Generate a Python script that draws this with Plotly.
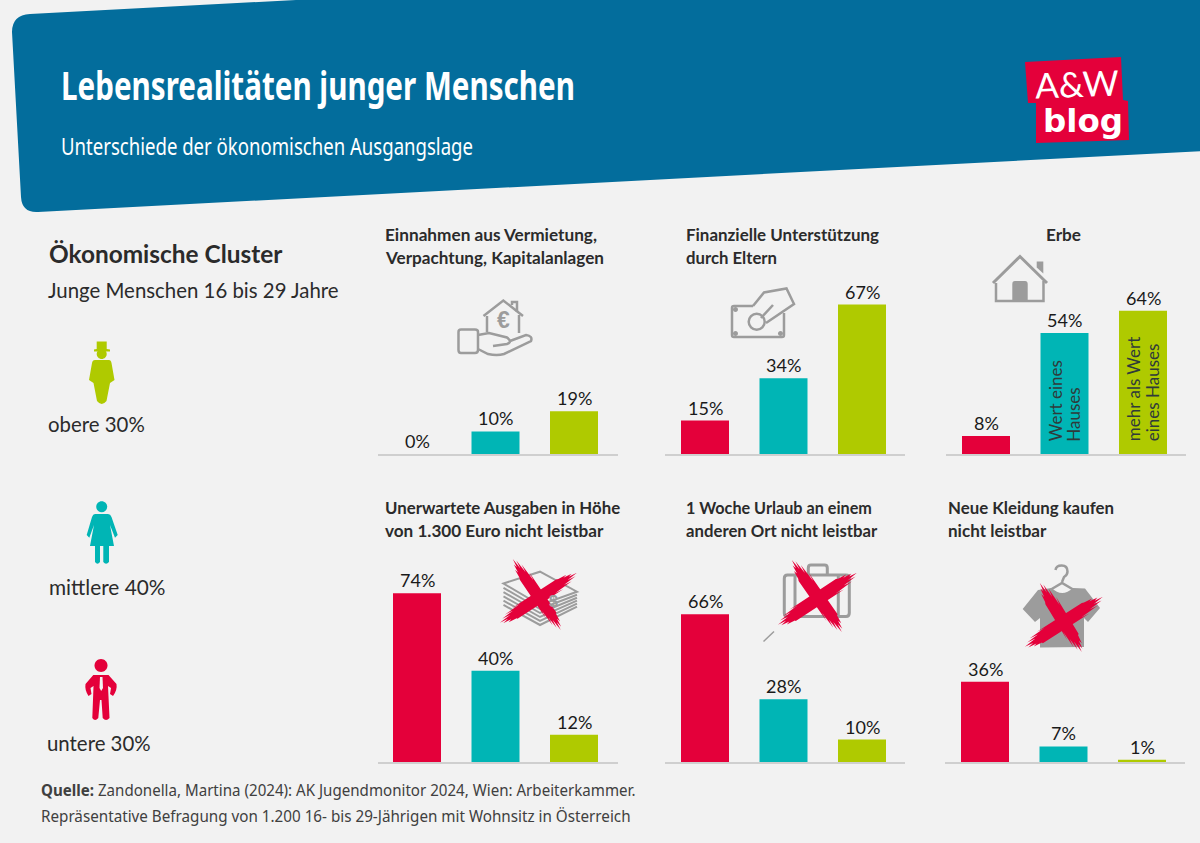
import json
import re
import plotly.graph_objects as go

# ---------- data ----------
clusters = ["untere 30%", "mittlere 40%", "obere 30%"]
einnahmen = [0, 10, 19]
unterstuetzung = [15, 34, 67]
erbe = [8, 54, 64]
ausgaben = [74, 40, 12]
urlaub = [66, 28, 10]
kleidung = [36, 7, 1]
panel_values = [einnahmen, unterstuetzung, erbe, ausgaben, urlaub, kleidung]
panel_titles = [
    ["Einnahmen aus Vermietung,", "Verpachtung, Kapitalanlagen"],
    ["Finanzielle Unterstützung", "durch Eltern"],
    ["Erbe"],
    ["Unerwartete Ausgaben in Höhe", "von 1.300 Euro nicht leistbar"],
    ["1 Woche Urlaub an einem", "anderen Ort nicht leistbar"],
    ["Neue Kleidung kaufen", "nicht leistbar"],
]
cluster_colors = ["#e4003a", "#00b5b5", "#afca00"]

W, H = 1200, 843
BG = "#f2f2f2"
BLUE = "#036d9c"
GRAY = "#9c9c9c"
RED = "#e4003a"
DARK = "#2b2b2b"
BODY = "Lato"
WIDE = "Noto Sans"

# pixel layout of each panel
panel_left = [378, 665, 946, 378, 665, 945]
panel_first = [393, 681, 962, 393, 681, 961]
panel_base = [454, 454, 454, 762, 762, 762]
panel_scale = [2.25, 2.23, 2.24, 2.28, 2.24, 2.23]
panel_top = 190
PANEL_W = 240
STEP = 78.5
BAR_W = 48

# rendered width (px) wanted for the texts set in a condensed cut
fitted_widths = {}


def X(x):
    return x / W


def Y(y):
    return 1 - y / H


def path(s):
    return re.sub(r"(-?\d+\.?\d*),(-?\d+\.?\d*)",
                  lambda m: f"{X(float(m[1])):.5f},{Y(float(m[2])):.5f}", s)


shapes = []
annotations = []


def fill(s, color, layer="above"):
    shapes.append(dict(type="path", path=path(s), xref="paper", yref="paper",
                       fillcolor=color, line=dict(width=0), layer=layer))


def stroke(s, color=GRAY, w=2.5):
    shapes.append(dict(type="path", path=path(s), xref="paper", yref="paper",
                       line=dict(color=color, width=w), layer="above"))


def circ(cx, cy, r):
    k = 0.5523 * r
    return (f"M {cx-r},{cy} C {cx-r},{cy-k} {cx-k},{cy-r} {cx},{cy-r} "
            f"C {cx+k},{cy-r} {cx+r},{cy-k} {cx+r},{cy} "
            f"C {cx+r},{cy+k} {cx+k},{cy+r} {cx},{cy+r} "
            f"C {cx-k},{cy+r} {cx-r},{cy+k} {cx-r},{cy} Z")


def text(x, y, s, size, color=DARK, font=BODY, anchor="left", angle=0, fit=None):
    if anchor == "left":
        x -= 2
    if fit:
        fitted_widths[s] = fit
    annotations.append(dict(x=X(x), y=Y(y), xref="paper", yref="paper", text=s,
                            showarrow=False, xanchor=anchor, yanchor="middle",
                            textangle=angle, align="left",
                            font=dict(family=font, size=size, color=color)))


def brush(x1, y1, x2, y2, w=12):
    """Cross stroke with spiky ends."""
    dx, dy = x2 - x1, y2 - y1
    L = (dx * dx + dy * dy) ** 0.5
    ux, uy = dx / L, dy / L
    nx, ny = -uy, ux

    def p(t, o):
        return f"{x1+ux*t+nx*o:.1f},{y1+uy*t+ny*o:.1f}"
    tips = [(-0.5, 20), (-0.34, 9), (-0.16, 3), (0.02, 0), (0.2, 5), (0.36, 10), (0.5, 21)]
    pts = []
    for i, (o, t) in enumerate(tips):
        pts.append(p(t, o * w))
        if i < len(tips) - 1:
            pts.append(p(t + 9, (o + tips[i + 1][0]) / 2 * w))
    rev = list(reversed(tips))
    for i, (o, t) in enumerate(rev):
        pts.append(p(L - t * 0.85, o * w))
        if i < len(rev) - 1:
            pts.append(p(L - t * 0.85 - 9, (o + rev[i + 1][0]) / 2 * w))
    return "M " + " L ".join(pts) + " Z"


def red_x(a, b):
    fill(brush(*a), RED)
    fill(brush(*b), RED)


# ---------- header ----------
fill("M 30,14 L 296,0 L 300,-3 L 1204,-3 L 1204,151 L 38,212 Q 22,213 21,197 L 12,32 Q 12,15 30,14 Z",
     BLUE, "below")
text(61, 84.5, "<b>Lebensrealitäten junger Menschen</b>", 39, "white", WIDE, fit=514)
text(61, 145, "Unterschiede der ökonomischen Ausgangslage", 24, "white", WIDE, fit=412)
fill("M 1025,62 L 1121,57 L 1123,100 L 1128,101 L 1129,140 L 1036,143 L 1036,103 L 1028,103 Z", RED)
text(1077, 83, "A&amp;W", 35, "white", "Lato", "center", -2)
text(1083, 121, "<b>blog</b>", 32.5, "white", "DejaVu Sans", "center")

# ---------- left column ----------
text(49, 254, "<b>Ökonomische Cluster</b>", 24.4, DARK)
text(48, 290, "Junge Menschen 16 bis 29 Jahre", 20.4, DARK)
text(48, 424, "obere 30%", 20.4, DARK)
text(49, 586, "mittlere 40%", 20.8, DARK)
text(47, 743, "untere 30%", 20.4, DARK)

GREEN, TEAL = cluster_colors[2], cluster_colors[1]
fill("M 96.7,341.5 L 106.7,341.5 L 106.7,349 L 110,349.5 L 110,351.5 L 94,351.5 L 94,349.5 L 96.7,349 Z", GREEN)
fill(circ(101.7, 354, 5), GREEN)
fill("M 95,360 L 109,360 Q 111,360 111.5,363 L 114.5,380 L 110,383 L 106.5,401 Q 101.7,407 97,401 "
     "L 93.5,383 L 89,380 L 92,363 Q 92.5,360 95,360 Z", GREEN)
fill(circ(101.7, 506.7, 5.5), TEAL)
fill("M 95,514 L 108,514 Q 110.5,514 111.5,517 L 117.7,535 L 115,537.7 L 110,525 L 114,546 L 109,546 "
     "L 109,562 Q 106,565.5 103.3,562 L 103.3,546 L 100,546 L 100,562 Q 97.5,565.5 95,562 L 95,546 "
     "L 90,546 L 94,525 L 89.3,537.7 L 86.7,535 L 92,517 Q 93,514 95,514 Z", TEAL)
fill(circ(101, 665.5, 6.5), RED)
fill("M 93.3,675 L 108.5,675 L 116.5,684 Q 117.5,690 113,696 L 110,694 L 111,688 L 108,686 L 109.5,718 "
     "Q 106,722 102.7,718 L 101.5,700 L 100,700 L 98.3,718 Q 95,722 92.3,718 L 93.5,686 L 90.5,688 "
     "L 91.5,694 L 88.5,696 Q 84.5,690 85.5,684 Z", RED)
fill("M 100,677 L 102.5,677 L 103,688 L 101.2,691 L 99.5,688 Z", BG)

# ---------- icons ----------
stroke("M 483.5,316 L 503.3,300.5 L 523,316")
stroke("M 512,305 L 512,302 L 517,302 L 517,312")
stroke("M 487,316 L 487,332")
stroke("M 519,315 L 519,333")
text(503, 320, "<b>€</b>", 23, GRAY, "Liberation Sans", "center")
stroke("M 461,329.5 L 475,329.5 Q 478,329.5 478,332 L 478,350 Q 478,353 475,353 L 461,353 "
       "Q 458.5,353 458.5,350 L 458.5,332 Q 458.5,329.5 461,329.5 Z")
stroke("M 478,335 L 489,333 L 507,337.5 Q 513,342 507,344 L 493,346")
stroke("M 510,341 L 526,335 Q 533,336 531,341 L 504,354 Q 497,356 488,354 L 478,349")

stroke("M 753,306 L 734,306 Q 732,306 732,308 L 732,335 Q 732,337 734,337 L 782,337 Q 784,337 784,335 L 784,313")
stroke(circ(756.7, 321.7, 8))
stroke("M 753,306 L 764,292.5 L 786.5,288.5 L 794,304 L 766,323")
stroke("M 773,305 L 761,318")
for cx, cy in [(735.5, 309.5), (780.5, 333.5), (735.5, 333.5)]:
    fill(circ(cx, cy, 2.5), GRAY)

stroke("M 993,283 L 1020,256.5 L 1047,283", w=3)
fill("M 1036.7,261.5 L 1043.3,261.5 L 1043.3,273.5 L 1036.7,267.5 Z", GRAY)
stroke("M 996,283 L 996,301 L 1043.5,301 L 1043.5,281")
fill("M 1012.3,284 Q 1012.3,281 1015,281 L 1025,281 Q 1027.7,281 1027.7,284 L 1027.7,300 L 1012.3,300 Z", GRAY)

# stack of banknotes
stroke("M 503.5,583.5 L 540,571.7 L 577,591.7 L 540,605 Z", w=2)
for k in range(1, 6):
    stroke(f"M 503.5,{583.5+k*4.3} L 540,{605+k*4} L 577,{591.7+k*3}", w=2)
text(553, 601, "<b>$</b>", 16, GRAY, "Liberation Sans", "center")
red_x((513, 559, 561, 630, 12), (577, 573, 500, 623, 12))

# suitcase
stroke("M 787.5,575 L 846,575 Q 849.3,575 849.3,578.5 L 849.3,613 Q 849.3,616.5 846,616.5 L 787.5,616.5 "
       "Q 784.3,616.5 784.3,613 L 784.3,578.5 Q 784.3,575 787.5,575 Z", w=3)
stroke("M 808.3,575 L 808.3,568 Q 808.3,565 811,565 L 824.5,565 Q 827.3,565 827.3,568 L 827.3,575", w=3)
stroke("M 795,575 L 795,616", w=3)
stroke("M 838.3,575 L 838.3,616", w=3)
stroke("M 763.5,641.5 L 774,631.5", w=1.5)
red_x((792, 560, 842, 632, 13), (857, 573, 778, 625, 13))

# t-shirt on hanger
stroke("M 1055.5,570 Q 1056,565.5 1061.7,565.5 Q 1067.5,565.5 1067.5,571.5 Q 1067.5,575 1064,577 L 1062,582")
stroke("M 1050,590 L 1062,583 L 1074,590")
fill("M 1038,590 L 1051.7,588 Q 1062,598 1073,588 L 1085,588.5 L 1100,608 L 1088,622 L 1084,618 L 1084,647 "
     "L 1040,647.5 L 1040,618 L 1035,622 L 1022.7,609 Z", GRAY)
red_x((1040, 583, 1082, 652, 13), (1103, 597, 1025, 647, 13))

# ---------- panel titles ----------
title_x = [385, 686, 1063.5, 385, 686, 948]
title_y = [[234, 257], [234, 257], [234], [507.5, 530.5], [507.5, 530.5], [507.5, 530.5]]
title_fit = [[212, 219], [193, 91], [None], [235, 219], [186, 192], [166, 99]]
for tx, ys, lines, fits in zip(title_x, title_y, panel_titles, title_fit):
    for y, line, f in zip(ys, lines, fits):
        text(tx, y, f"<b>{line}</b>", 17.2, DARK, BODY, "center" if len(lines) == 1 else "left", fit=f)

# ---------- footer ----------
text(41, 789, "<b>Quelle:</b> Zandonella, Martina (2024): AK Jugendmonitor 2024, Wien: Arbeiterkammer.",
     16.5, "#404040", WIDE, fit=594)
text(41, 815.5, "Repräsentative Befragung von 1.200 16- bis 29-Jährigen mit Wohnsitz in Österreich",
     16.5, "#404040", WIDE, fit=590)

# ---------- bars ----------
fig = go.Figure()
layout_axes = {}
for i, values in enumerate(panel_values):
    n = "" if i == 0 else str(i + 1)
    left, base, scale, first = panel_left[i], panel_base[i], panel_scale[i], panel_first[i] + BAR_W / 2
    height = base - (panel_top if base < 500 else 500)
    fig.add_trace(go.Bar(
        x=clusters, y=values, xaxis=f"x{n}", yaxis=f"y{n}",
        marker=dict(color=cluster_colors, line=dict(width=0)),
        width=BAR_W / STEP, cliponaxis=False, showlegend=False, hoverinfo="x+y",
    ))
    for c, v in zip(clusters, values):
        annotations.append(dict(x=c, y=v, xref=f"x{n}", yref=f"y{n}", text=f"{v}%", showarrow=False,
                                xanchor="center", yanchor="middle", yshift=13,
                                font=dict(family=BODY, size=18, color="#1a1a1a")))
    layout_axes[f"xaxis{n}"] = dict(
        domain=[X(left), X(left + PANEL_W)], type="category", categoryorder="array",
        categoryarray=clusters, range=[(left - first) / STEP, (left + PANEL_W - first) / STEP],
        showticklabels=False, ticks="", showgrid=False, zeroline=False,
        showline=True, linecolor="#cfcfcf", linewidth=1.5, anchor=f"y{n}", fixedrange=True)
    layout_axes[f"yaxis{n}"] = dict(
        domain=[Y(base), Y(base - height)], range=[0, height / scale], visible=False,
        showgrid=False, zeroline=False, anchor=f"x{n}", fixedrange=True)

# labels inside the inheritance bars
for cat, label, shift in [(clusters[1], "Wert eines", -9.5), (clusters[1], "Hauses", 9.5),
                          (clusters[2], "mehr als Wert", -9.5), (clusters[2], "eines Hauses", 9.5)]:
    annotations.append(dict(x=cat, y=4.6, xref="x3", yref="y3", text=label, showarrow=False,
                            xanchor="center", yanchor="bottom", xshift=shift, textangle=-90,
                            font=dict(family=BODY, size=17, color="#2f3a3a")))

fig.update_layout(
    width=W, height=H, margin=dict(l=0, r=0, t=0, b=0), autosize=False,
    paper_bgcolor=BG, plot_bgcolor="rgba(0,0,0,0)", showlegend=False,
    shapes=shapes, annotations=annotations, **layout_axes)

post = """
document.body.style.margin='0';document.body.style.overflow='hidden';document.body.style.background='#f2f2f2';
var fitted=%s;
function fitTexts(){document.querySelectorAll('.annotation-text').forEach(function(e){
  var w=fitted[e.getAttribute('data-unformatted')];
  if(w){var b=e.getBBox();e.style.transformBox='fill-box';e.style.transformOrigin='left center';
        e.style.transform='scaleX('+(w/b.width)+')';}
});}
fitTexts();setTimeout(fitTexts,30);setTimeout(fitTexts,300);
""" % json.dumps(fitted_widths)
fig.write_html("out.html", config=dict(displayModeBar=False), post_script=post)
